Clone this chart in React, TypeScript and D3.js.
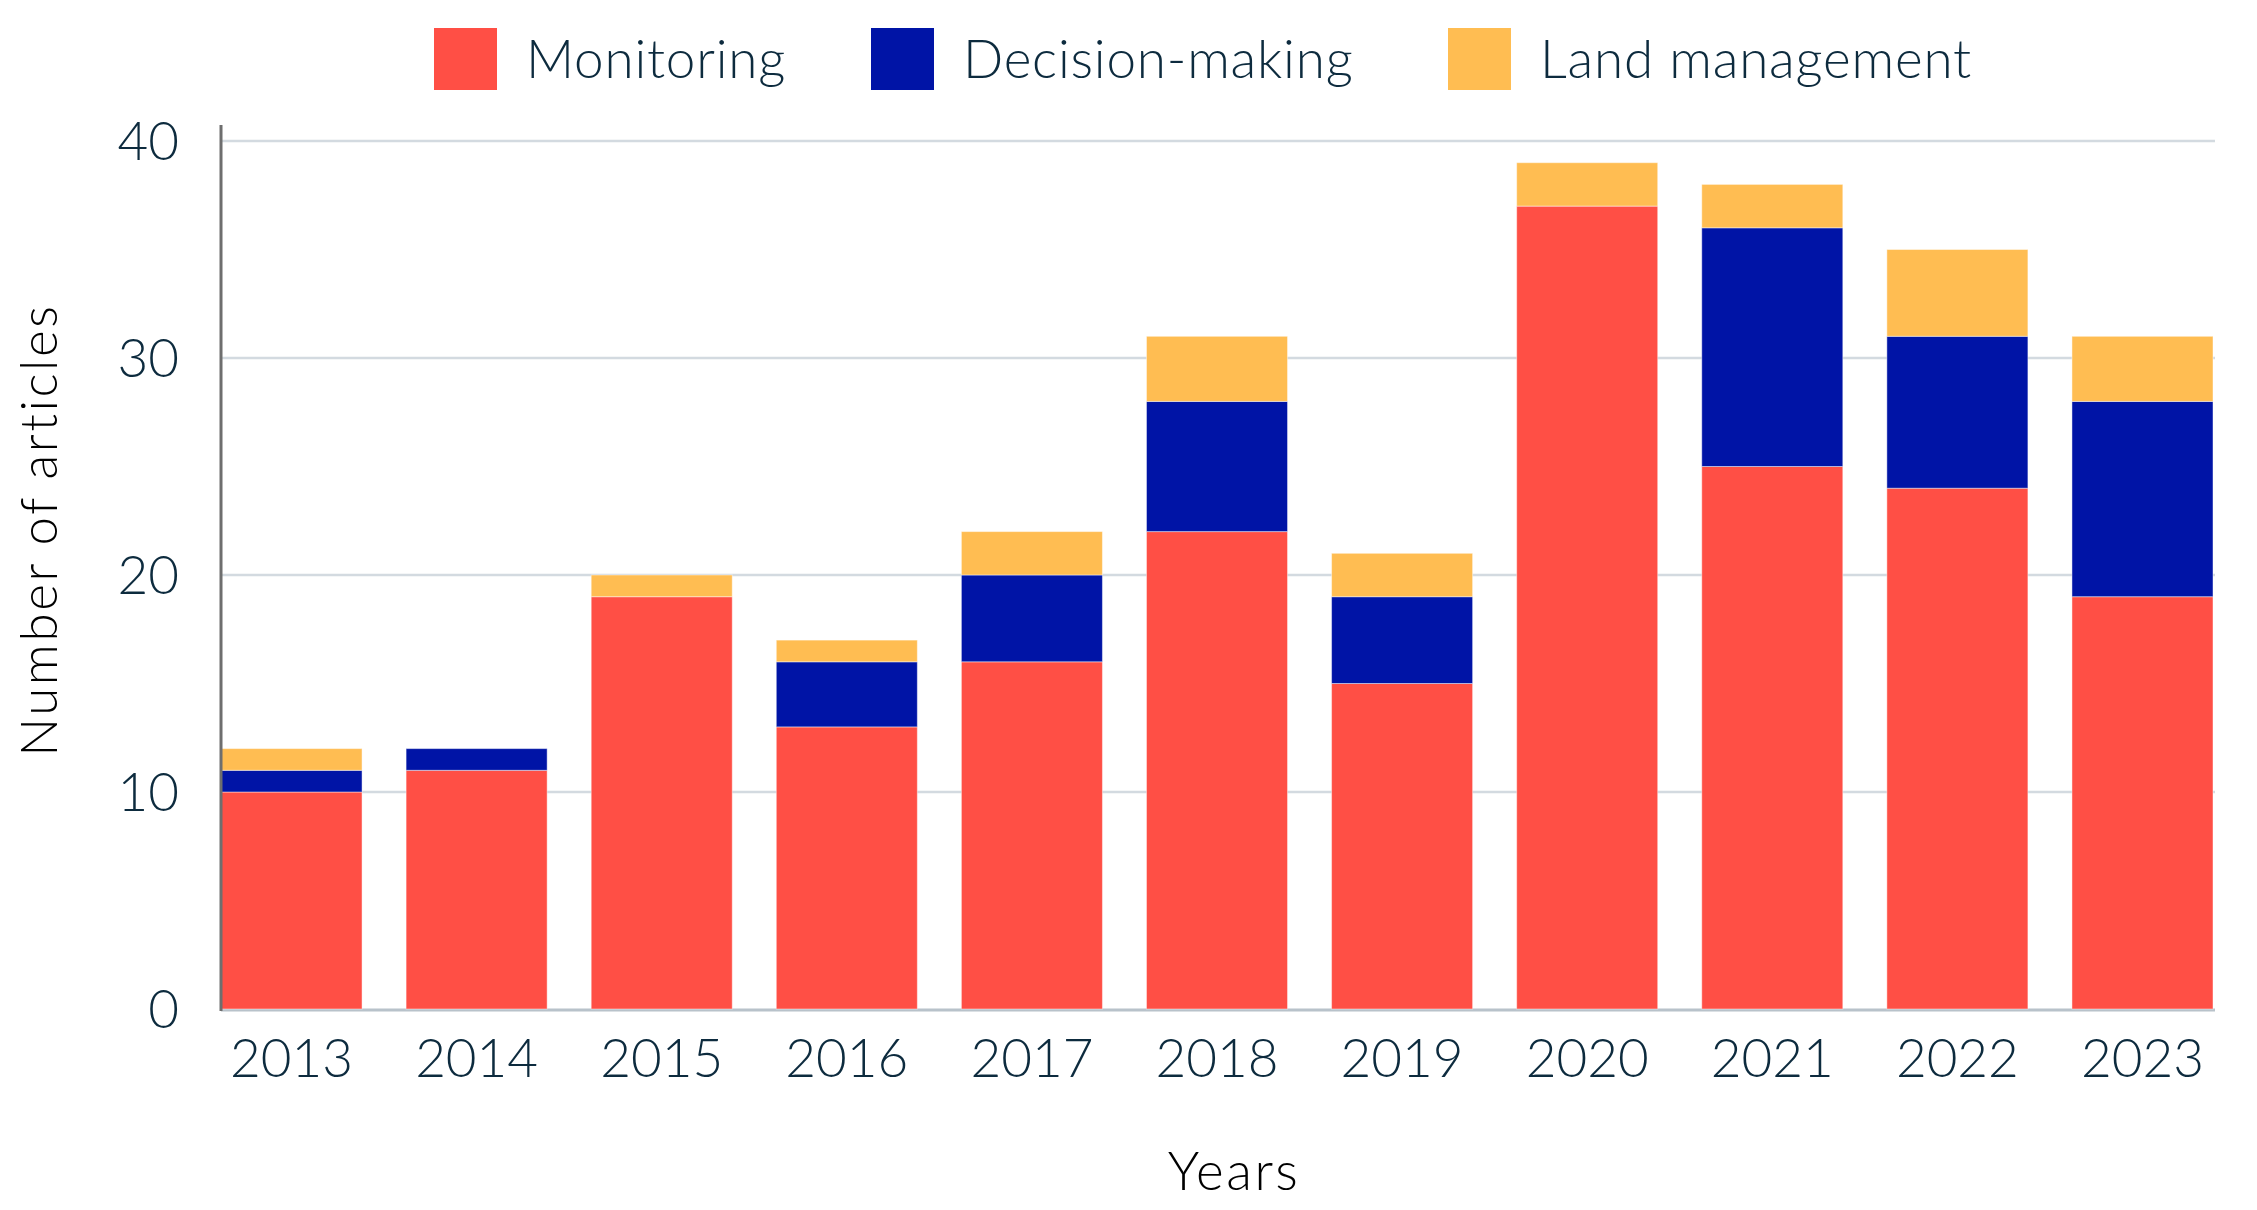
import * as d3 from "d3";
import { useEffect, useRef } from "react";

const years = ["2013", "2014", "2015", "2016", "2017", "2018", "2019", "2020", "2021", "2022", "2023"];
const monitoring = [10, 11, 19, 13, 16, 22, 15, 37, 25, 24, 19];
const decisionMaking = [1, 1, 0, 3, 4, 6, 4, 0, 11, 7, 9];
const landManagement = [1, 0, 1, 1, 2, 3, 2, 2, 2, 4, 3];
const seriesNames = ["Monitoring", "Decision-making", "Land management"];
const yTicks = [0, 10, 20, 30, 40];

const colors = ["#ff4f45", "#0014a6", "#ffbd52"];
const W = 2257;
const H = 1210;
const FONT = "Lato, 'Noto Sans', sans-serif";

export default function App() {
  const ref = useRef<SVGSVGElement>(null);

  useEffect(() => {
    document.body.style.margin = "0";
    const svg = d3.select(ref.current);
    svg.selectAll("*").remove();

    const left = 221;
    const right = 2213;
    const top = 141;
    const bottom = 1009;

    const x = d3.scaleBand().domain(years).range([left, right]).paddingInner(0.238).paddingOuter(0);
    const y = d3.scaleLinear().domain([0, 40]).range([bottom, top]);

    const rows = years.map((yr, i) => ({
      year: yr,
      Monitoring: monitoring[i],
      "Decision-making": decisionMaking[i],
      "Land management": landManagement[i],
    }));
    const stacked = d3.stack<any>().keys(seriesNames)(rows);

    // gridlines
    svg
      .append("g")
      .selectAll("line")
      .data(yTicks.filter((t) => t > 0))
      .join("line")
      .attr("x1", left)
      .attr("x2", right + 2)
      .attr("y1", (d) => y(d))
      .attr("y2", (d) => y(d))
      .attr("stroke", "#d3dae0")
      .attr("stroke-width", 2.5);

    // baseline
    svg
      .append("line")
      .attr("x1", left)
      .attr("x2", right + 2)
      .attr("y1", y(0) + 1)
      .attr("y2", y(0) + 1)
      .attr("stroke", "#b8c2ca")
      .attr("stroke-width", 3);

    // bars
    svg
      .append("g")
      .selectAll("g")
      .data(stacked)
      .join("g")
      .attr("fill", (_, i) => colors[i])
      .selectAll("rect")
      .data((d) => d.filter((s) => s[1] - s[0] > 0))
      .join("rect")
      .attr("x", (d: any) => x(d.data.year)!)
      .attr("width", x.bandwidth())
      .attr("y", (d) => y(d[1]))
      .attr("height", (d) => y(d[0]) - y(d[1]))
      .attr("stroke", "rgba(255,255,255,0.45)")
      .attr("stroke-width", 1);

    // y axis line
    svg
      .append("line")
      .attr("x1", left)
      .attr("x2", left)
      .attr("y1", 125)
      .attr("y2", bottom + 2)
      .attr("stroke", "#6e6e6e")
      .attr("stroke-width", 3);

    // y tick labels
    svg
      .append("g")
      .selectAll("text")
      .data(yTicks)
      .join("text")
      .attr("x", 179)
      .attr("y", (d) => y(d))
      .attr("dy", "0.36em")
      .attr("text-anchor", "end")
      .attr("font-family", FONT)
      .attr("font-weight", 300)
      .attr("font-size", 53)
      .attr("fill", "#0d2b3e")
      .text((d) => d);

    // x tick labels
    svg
      .append("g")
      .selectAll("text")
      .data(years)
      .join("text")
      .attr("x", (d) => x(d)! + x.bandwidth() / 2)
      .attr("y", 1077)
      .attr("text-anchor", "middle")
      .attr("font-family", FONT)
      .attr("font-weight", 300)
      .attr("font-size", 53)
      .attr("fill", "#0d2b3e")
      .text((d) => d);

    // axis titles
    svg
      .append("text")
      .attr("x", 1234)
      .attr("y", 1190)
      .attr("text-anchor", "middle")
      .attr("font-family", FONT)
      .attr("font-weight", 300)
      .attr("font-size", 53)
      .attr("letter-spacing", 2.5)
      .attr("fill", "#000")
      .text("Years");

    svg
      .append("text")
      .attr("transform", "translate(57,530) rotate(-90)")
      .attr("text-anchor", "middle")
      .attr("font-family", FONT)
      .attr("font-weight", 300)
      .attr("font-size", 51)
      .attr("letter-spacing", 2.6)
      .attr("fill", "#000")
      .text("Number of articles");

    // legend
    const legendX = [434, 871, 1448];
    const lg = svg
      .append("g")
      .selectAll("g")
      .data(seriesNames)
      .join("g")
      .attr("transform", (_, i) => `translate(${legendX[i]},28)`);
    lg.append("rect")
      .attr("width", 63)
      .attr("height", 62)
      .attr("fill", (_, i) => colors[i]);
    lg.append("text")
      .attr("x", 92)
      .attr("y", 31)
      .attr("dy", "0.36em")
      .attr("font-family", FONT)
      .attr("font-weight", 300)
      .attr("font-size", 53)
      .attr("letter-spacing", 0.8)
      .attr("fill", "#0d2b3e")
      .text((d) => d);
  }, []);

  return <svg ref={ref} width={W} height={H} style={{ display: "block", background: "#fff" }} />;
}
